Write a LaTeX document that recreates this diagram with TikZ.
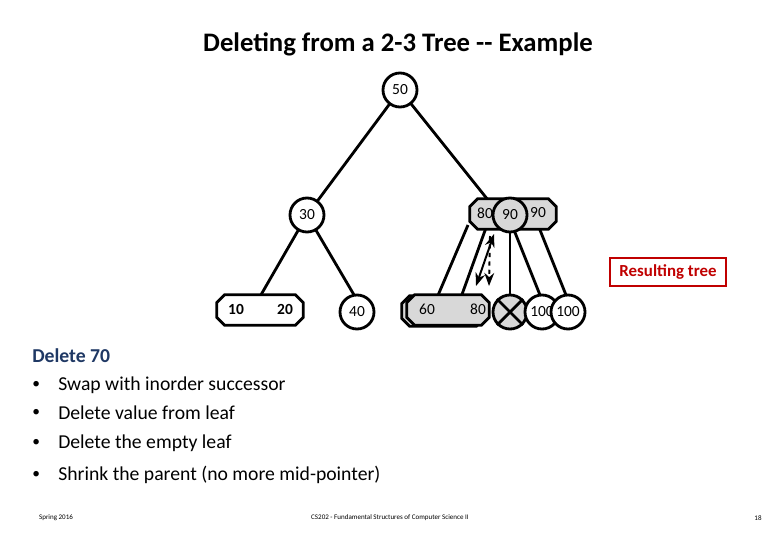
\documentclass[tikz,border=0pt]{standalone}
\usepackage{fontspec}
\setmainfont{Carlito}
\usetikzlibrary{arrows.meta}
\definecolor{navy}{RGB}{31,56,100}
\definecolor{slidered}{RGB}{192,0,0}
\definecolor{nodegray}{RGB}{216,216,216}
\begin{document}
\begin{tikzpicture}[x=0.025cm,y=-0.025cm]
  \tikzset{keycircle/.style={draw=black,line width=2pt,shape=circle,minimum size=0.85cm,inner sep=0pt,fill=white,font=\fontsize{11}{13}\selectfont},
           keybox/.style={shape=rectangle,minimum width=2.15cm,minimum height=0.75cm,inner sep=0pt},
           keytext/.style={font=\fontsize{11}{13}\selectfont,inner sep=0pt},
           treeedge/.style={line width=2pt},
           bullet/.style={anchor=west,font=\fontsize{14}{16}\selectfont,inner sep=0pt}}
  \useasboundingbox (0,0) rectangle (780,540);
  % title
  \node[font=\bfseries\fontsize{19}{22}\selectfont] (title) at (398,44) {Deleting from a 2-3 Tree {-}{-} Example};
  % edges first
  \coordinate (r50) at (400,90);
  \coordinate (r30) at (307,215);
  \draw[treeedge] (r50) -- (r30);
  \draw[treeedge] (r50) -- (492,205);
  \draw[treeedge] (r30) -- (258,300);
  \draw[treeedge] (r30) -- (357,300);
  \draw[treeedge] (468,225) -- (436,300);
  \draw[treeedge] (487,225) -- (460,300);
  \draw[treeedge] (510,225) -- (510,300);
  \draw[treeedge] (512,225) -- (542,300);
  \draw[treeedge] (538,225) -- (568,300);
  % octagon boxes
  \node[keybox] (b8090) at (513,214) {};
  \node[keybox] (b1020) at (260,310) {};
  \node[keybox,minimum width=2.05cm] (shadow) at (443,311) {};
  \node[keybox,minimum width=2.05cm] (b6080) at (448,310) {};
  \foreach \b/\c in {b8090/nodegray,b1020/white,shadow/nodegray,b6080/nodegray}{
    \draw[line width=2pt,fill=\c] ([xshift=0.2cm]\b.north west) -- ([xshift=-0.2cm]\b.north east)
      -- ([yshift=-0.2cm]\b.north east) -- ([yshift=0.2cm]\b.south east)
      -- ([xshift=-0.2cm]\b.south east) -- ([xshift=0.2cm]\b.south west)
      -- ([yshift=0.2cm]\b.south west) -- ([yshift=-0.2cm]\b.north west) -- cycle;
  }
  % nodes
  \node[keycircle] (n50) at (r50) {50};
  \node[keycircle] (n30) at (r30) {30};
  \node[keytext] (t80) at (485,213) {80};
  \node[keytext] (t90) at (538,213) {90};
  \node[keycircle,fill=nodegray] (n90) at (510,215) {90};
  \node[keytext,font=\bfseries\fontsize{11}{13}\selectfont] (t10) at (236,309) {10};
  \node[keytext,font=\bfseries\fontsize{11}{13}\selectfont] (t20) at (285,309) {20};
  \node[keycircle] (n40) at (357,312) {40};
  \node[keytext] (t60) at (427,309) {60};
  \node[keytext] (t80b) at (478,309) {80};
  \node[keycircle,fill=nodegray] (nx) at (510,312) {};
  \draw[line width=2pt] (nx.north west) -- (nx.south east) (nx.north east) -- (nx.south west);
  \node[keycircle] (n100a) at (542,312) {100};
  \node[keycircle] (n100b) at (568,312) {100};
  % arrows
  \coordinate (a1) at (494,234);
  \coordinate (a2) at (476,286);
  \coordinate (a3) at (490,236);
  \coordinate (a4) at (489,286);
  \draw[line width=1.4pt,{Stealth}-{Stealth}] (a1) -- (a2);
  \draw[line width=1.4pt,dashed,-{Stealth}] (a3) -- (a4);
  % label
  \node[draw=slidered,line width=1.4pt,text=slidered,font=\bfseries\fontsize{12}{14}\selectfont,minimum width=2.9cm,minimum height=0.72cm] (result) at (668,272) {Resulting tree};
  % text
  \node[anchor=west,text=navy,font=\bfseries\fontsize{14}{16}\selectfont,inner sep=0pt] (del) at (32,356) {Delete 70};
  \foreach \y/\t [count=\i] in {385/Swap with inorder successor,413/Delete value from leaf,443/Delete the empty leaf,475/Shrink the parent (no more mid-pointer)}{
    \node[anchor=west,inner sep=0pt,font=\fontsize{11}{13}\selectfont] (dot\i) at (32,\y) {•};
    \node[bullet] (line\i) at (58,\y) {\t};
  }
  % footer
  \node[font=\fontsize{5}{6}\selectfont] (f1) at (56,518) {Spring 2016};
  \node[font=\fontsize{5}{6}\selectfont] (f2) at (390,518) {CS202 - Fundamental Structures of Computer Science II};
  \node[font=\fontsize{5}{6}\selectfont] (f3) at (758,518) {18};
\end{tikzpicture}
\end{document}
